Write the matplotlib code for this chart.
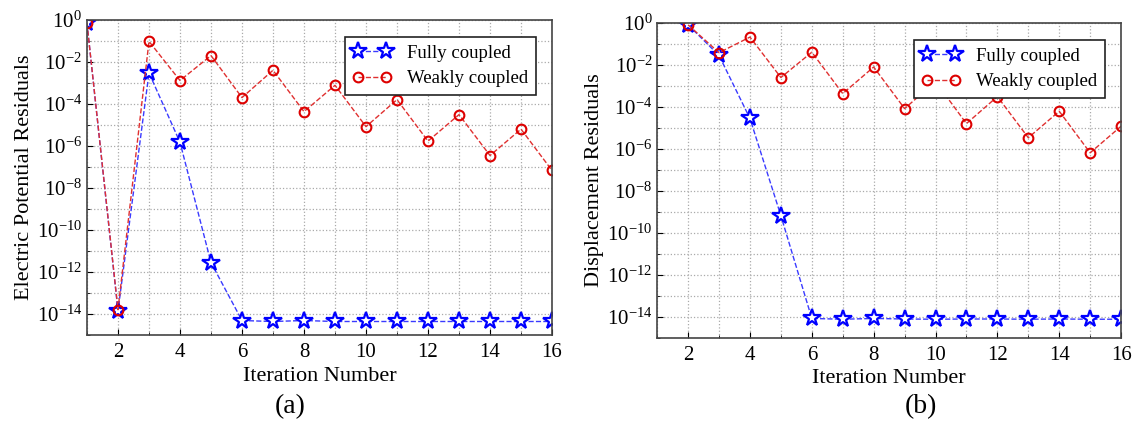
import numpy as np
import matplotlib
matplotlib.use("Agg")
import matplotlib.pyplot as plt
from matplotlib.ticker import FixedLocator, NullFormatter

plt.rcParams['font.family'] = ['Liberation Serif', 'DejaVu Serif']
plt.rcParams['mathtext.fontset'] = 'custom'
plt.rcParams['mathtext.rm'] = 'Liberation Serif'

# %% Data
iters_a = np.arange(1, 17)
fully_a = [0.7, 1.4e-14, 3e-3, 1.5e-6, 2.8e-12, 4.9e-15, 4.4e-15, 4.9e-15,
           4.4e-15, 4.4e-15, 4.4e-15, 4.4e-15, 4.4e-15, 4.4e-15, 4.4e-15, 4.4e-15]
weakly_a = [0.7, 1.6e-14, 9.5e-2, 1.3e-3, 2e-2, 2e-4, 4e-3, 4.3e-5,
            7.7e-4, 8.3e-6, 1.6e-4, 1.7e-6, 3.1e-5, 3.5e-7, 6.3e-6, 6.8e-8]

iters_b = np.arange(2, 17)
fully_b = [0.8, 2.8e-2, 2.8e-5, 6.6e-10, 8.5e-15, 7.8e-15, 8.5e-15, 8e-15,
           7.8e-15, 8e-15, 8e-15, 7.8e-15, 8e-15, 7.8e-15, 7.8e-15]
weakly_b = [0.8, 3.8e-2, 0.21, 2.5e-3, 4e-2, 4.3e-4, 7.9e-3, 8.3e-5,
            1.6e-3, 1.6e-5, 3.1e-4, 3.4e-6, 6.2e-5, 6.5e-7, 1.2e-5]

panels = [
    ("Electric Potential Residuals", "(a)", iters_a, fully_a, weakly_a,
     [0.0765, 0.208, 0.409, 0.745], 0.255),
    ("Displacement Residuals", "(b)", iters_b, fully_b, weakly_b,
     [0.578, 0.201, 0.408, 0.745], 0.81),
]

fig = plt.figure(figsize=(11.37, 4.23), dpi=100)

for ylabel, tag, xs, fully, weakly, rect, tag_x in panels:
    ax = fig.add_axes(rect)
    ax.semilogy(xs, fully, linestyle='--', color='#3a3aff', linewidth=1,
                marker='*', markersize=13, markerfacecolor='white',
                markeredgecolor='blue', markeredgewidth=1.6, label='Fully coupled')
    ax.semilogy(xs, weakly, linestyle='--', color='#e03030', linewidth=1,
                marker='o', markersize=7, markerfacecolor='none',
                markeredgecolor='#dd0000', markeredgewidth=1.5, label='Weakly coupled')

    ax.set_xlim(1, 16)
    ax.set_ylim(1e-15, 1e0)
    ax.xaxis.set_major_locator(FixedLocator(range(2, 17, 2)))
    ax.xaxis.set_minor_locator(FixedLocator(range(1, 17, 2)))
    ax.yaxis.set_major_locator(FixedLocator([10.0 ** k for k in range(-14, 1, 2)]))
    ax.yaxis.set_minor_locator(FixedLocator([10.0 ** k for k in range(-15, 0, 2)]))
    ax.yaxis.set_minor_formatter(NullFormatter())
    ax.grid(True, which='both', linestyle=':', color='#aaaaaa', linewidth=0.9)
    ax.tick_params(which='both', direction='in', labelsize=15, length=4)
    ax.tick_params(axis='x', pad=6)
    ax.tick_params(which='minor', length=2)
    for sp in ax.spines.values():
        sp.set_color('#444444')
        sp.set_linewidth(1.2)

    ax.set_xlabel("Iteration Number", fontsize=16, labelpad=3)
    ax.set_ylabel(ylabel, fontsize=16, labelpad=2)
    leg = ax.legend(loc='upper right', fontsize=13.5, numpoints=2, fancybox=False,
                    framealpha=1, edgecolor='#222222', borderpad=0.4,
                    handlelength=2.1, handletextpad=0.8, labelspacing=0.45,
                    bbox_to_anchor=(0.985, 0.975))
    leg.get_frame().set_linewidth(1.2)
    fig.text(tag_x, 0.038, tag, fontsize=20, ha='center', va='center')

fig.savefig("out.png", dpi=100)
